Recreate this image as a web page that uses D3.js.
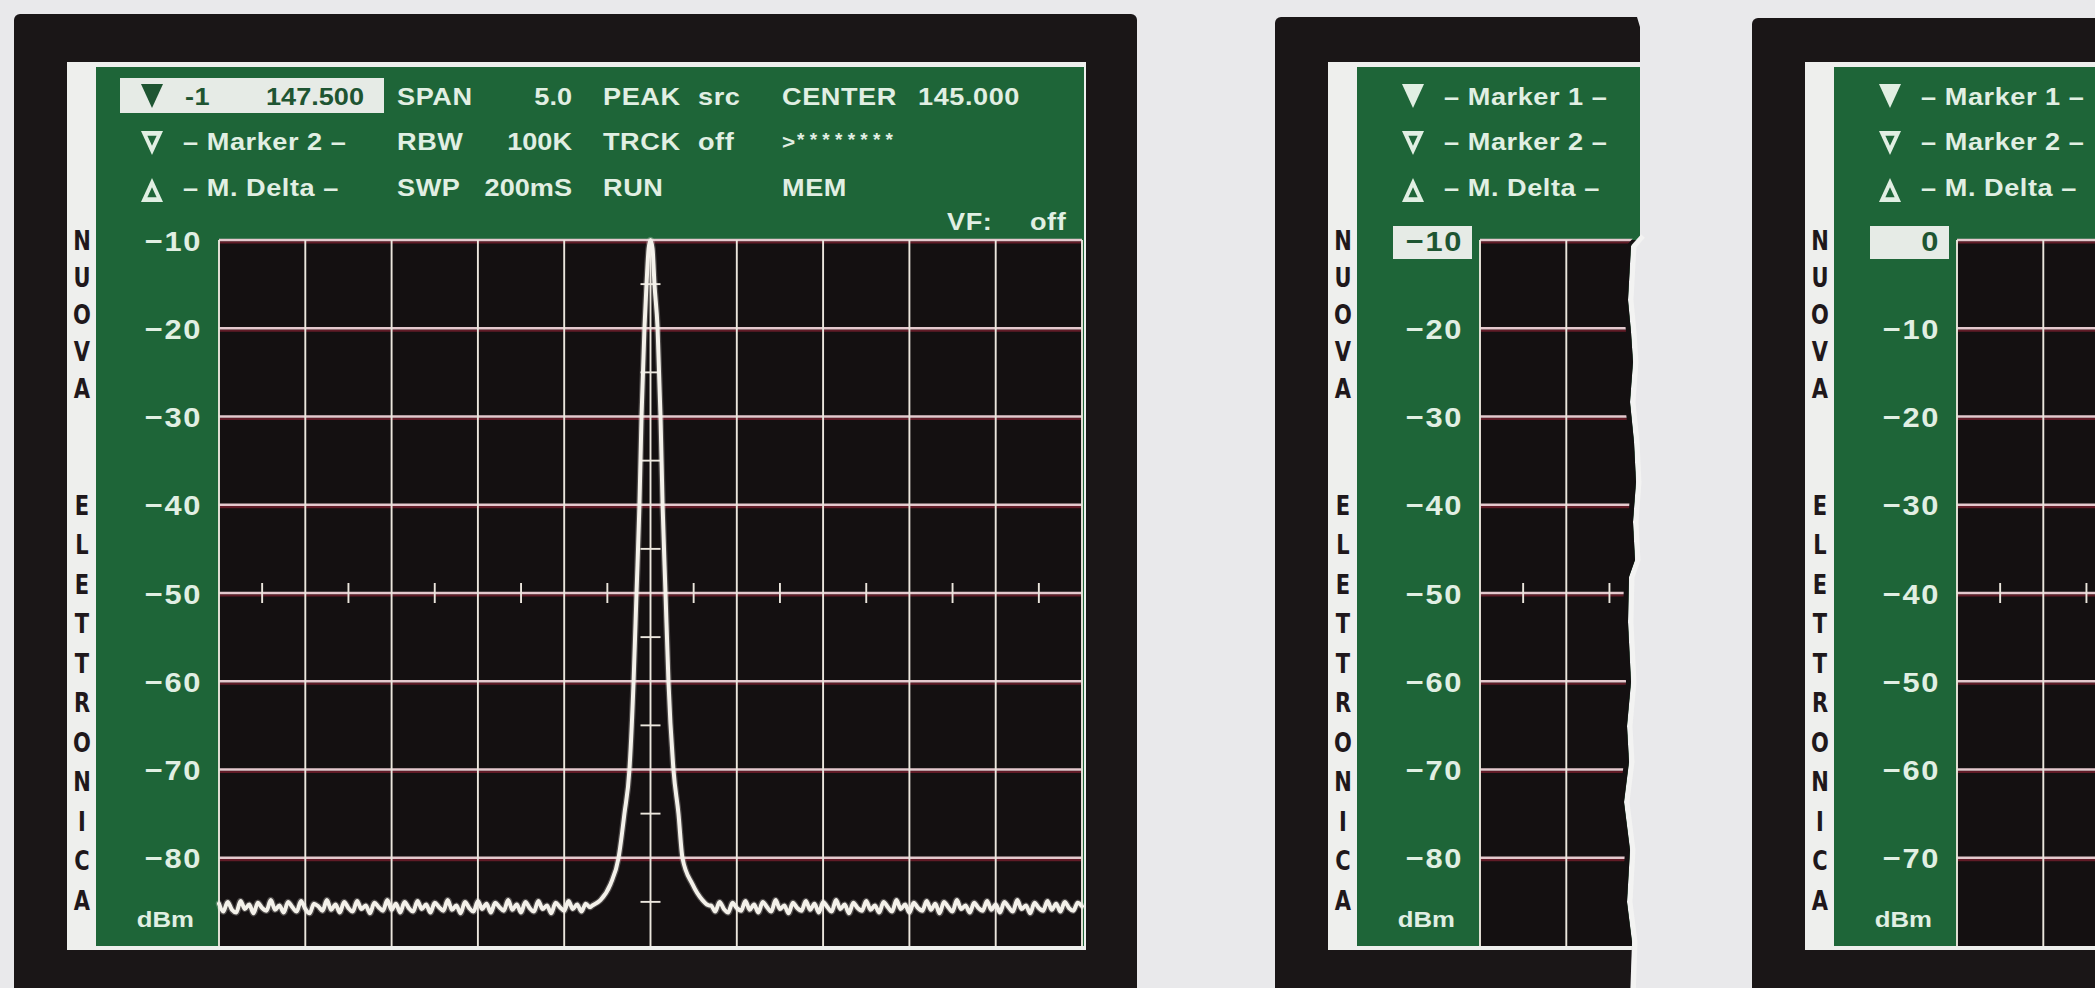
<!DOCTYPE html>
<html>
<head>
<meta charset="utf-8">
<script src="https://cdn.jsdelivr.net/npm/d3@7"></script>
<style>
  html, body { margin: 0; padding: 0; background: #e9e9eb; overflow: hidden; }
  svg { display: block; }
</style>
</head>
<body>
<svg id="chart"></svg>
<script>
// ---------------- data ----------------
const freqStartMHz = 142.5;
const freqStopMHz = 147.5;
const freqGridMHz = [142.5, 143.0, 143.5, 144.0, 144.5, 145.0, 145.5, 146.0, 146.5, 147.0, 147.5];
const freqMinorMHz = [142.75, 143.25, 143.75, 144.25, 144.75, 145.25, 145.75, 146.25, 146.75, 147.25];
const centerFreqMHz = 145.0;

// reference level scales (dBm)
const levelGridA = [-10, -20, -30, -40, -50, -60, -70, -80];
const levelMinorA = [-15, -25, -35, -45, -55, -65, -75, -85];
const levelGridB = [0, -10, -20, -30, -40, -50, -60, -70];
const levelMinorB = [-5, -15, -25, -35, -45, -55, -65, -75];

// sweep trace: noise floor left of the carrier, carrier, noise floor right of it
const noiseStepMHz = 0.025;
const noiseLeftStartMHz = 142.5;
const noiseLeftDbm = [
  -85.2, -86.1, -85.0, -85.9, -86.2, -84.9, -85.8, -85.3, -86.3, -85.1,
  -85.7, -86.0, -84.8, -85.9, -85.4, -86.2, -85.0, -85.6, -86.1, -84.9,
  -85.8, -86.3, -85.2, -85.5, -86.0, -84.8, -85.9, -85.3, -86.2, -85.0,
  -85.7, -86.1, -84.9, -85.8, -85.4, -86.3, -85.1, -85.6, -86.0, -84.8,
  -85.9, -85.2, -86.2, -85.0, -85.7, -86.1, -84.9, -85.8, -85.3, -86.2,
  -85.1, -85.6, -86.0, -84.8, -85.9, -85.4, -86.3, -85.0, -85.7, -86.1,
  -84.9, -85.8, -85.2, -86.2, -85.1, -85.6, -86.0, -84.8, -85.9, -85.3,
  -86.2, -85.0, -85.7, -86.1, -84.9, -85.8, -85.4, -86.3, -85.1, -85.6,
  -86.0, -84.9, -85.8, -85.3, -86.1, -85.2, -85.6
];
const peakFreqMHz = [
  144.664, 144.710, 144.768, 144.815, 144.849, 144.878, 144.902, 144.919, 144.936,
  144.948, 144.965, 144.977, 144.989, 145.000, 145.012, 145.023, 145.041, 145.058,
  145.070, 145.087, 145.104, 145.133, 145.162, 145.185, 145.243, 145.301, 145.340
];
const peakDbm = [
  -85.4, -84.8, -83.0, -80.0, -75.0, -70.0, -60.0, -50.0, -40.0,
  -30.0, -20.0, -15.0, -11.0, -10.0, -11.0, -15.0, -20.0, -30.0,
  -40.0, -50.0, -60.0, -70.0, -75.0, -80.0, -83.0, -84.8, -85.4
];
const noiseRightStartMHz = 145.35;
const noiseRightDbm = [
  -85.4, -86.1, -85.0, -85.8, -86.2, -85.1, -85.7, -86.0, -84.9, -85.9,
  -85.3, -86.2, -85.0, -85.6, -86.1, -84.8, -85.8, -85.4, -86.3, -85.1,
  -85.7, -86.0, -84.9, -85.9, -85.2, -86.2, -85.0, -85.6, -86.1, -84.8,
  -85.8, -85.3, -86.3, -85.1, -85.7, -86.0, -84.9, -85.9, -85.4, -86.2,
  -85.0, -85.6, -86.1, -84.8, -85.8, -85.3, -86.2, -85.1, -85.7, -86.0,
  -84.9, -85.9, -85.2, -86.3, -85.0, -85.6, -86.1, -84.8, -85.8, -85.4,
  -86.2, -85.1, -85.7, -86.0, -84.9, -85.9, -85.3, -86.2, -85.0, -85.6,
  -86.1, -84.8, -85.8, -85.4, -86.3, -85.1, -85.7, -86.0, -84.9, -85.9,
  -85.2, -86.1, -85.0, -85.7, -86.0, -85.1, -85.5
];

// on-screen read-outs
const markerLabels = ["– Marker 1 –", "– Marker 2 –", "– M.  Delta –"];
const activeMarker = ["-1", "147.500"];
const settingNames = ["SPAN", "RBW", "SWP"];
const settingValues = ["5.0", "100K", "200mS"];
const modeNames = ["PEAK", "TRCK", "RUN"];
const modeValues = ["src", "off", ""];
const statusRow1 = ["CENTER", "145.000"];
const statusRow2 = [">", "********"];
const statusRow3 = ["MEM"];
const footerTexts = ["VF:", "off"];
const unitLabel = "dBm";
const brandTop = "NUOVA";
const brandBottom = "ELETTRONICA";

// ---------------- look ----------------
const W = 2095, H = 988;
const C = {
  frame: "#1a1617",
  bezel: "#eeefed",
  green: "#1e6538",
  plot: "#141011",
  text: "#e1efe3",
  boxFill: "#e6ebe6",
  boxText: "#1e5532",
  hGrid: "#e4c9ce",
  hShadow: "#6a1d2a",
  vGrid: "#ebe6dd",
  trace: "#f4f1ea",
  letters: "#1f181b"
};
const FONT = "'Liberation Sans', Arial, Helvetica, sans-serif";

const svg = d3.select("#chart").attr("width", W).attr("height", H);
const defs = svg.append("defs");

// torn right edge of the middle screen
const tornEdge = [
  [1637, 17], [1640, 27], [1640, 236], [1631, 246], [1628, 300], [1631, 332],
  [1633, 362], [1630, 402], [1634, 442], [1636, 482], [1633, 522], [1635, 560],
  [1629, 577], [1628, 622], [1631, 682], [1627, 726], [1629, 762], [1624, 802],
  [1630, 850], [1627, 902], [1632, 942], [1630, 1000]
];
function edgePolygon(shift) {
  const pts = [[1200, 0], [1637 + shift, 0]]
    .concat(tornEdge.map(p => [p[0] + shift, p[1]]))
    .concat([[1200, 1000]]);
  return d3.line()(pts) + "Z";
}
defs.append("clipPath").attr("id", "tornClip").append("path").attr("d", edgePolygon(0));
defs.append("clipPath").attr("id", "tornInner").append("path").attr("d", edgePolygon(-5));
defs.append("clipPath").attr("id", "pageClip").append("rect")
  .attr("x", 0).attr("y", 0).attr("width", W).attr("height", H);

function txt(g, x, yb, s, o = {}) {
  return g.append("text")
    .attr("transform", `translate(${x},${yb}) scale(${o.sx || 1.13},1)`)
    .attr("text-anchor", o.anchor || "start")
    .attr("font-family", FONT)
    .attr("font-weight", "bold")
    .attr("font-size", o.size || 24)
    .attr("letter-spacing", o.ls == null ? 0.5 : o.ls)
    .attr("fill", o.fill || C.text)
    .text(s);
}

function markerIcon(g, cx, yTop, kind, color, hole) {
  const w = 22, h = 24;
  const pts = kind === "up"
    ? [[cx, yTop], [cx + w / 2, yTop + h], [cx - w / 2, yTop + h]]
    : [[cx - w / 2, yTop], [cx + w / 2, yTop], [cx, yTop + h]];
  g.append("path").attr("d", d3.line()(pts) + "Z").attr("fill", color);
  if (hole) {
    const gx = d3.mean(pts, p => p[0]), gy = d3.mean(pts, p => p[1]);
    const inner = pts.map(p => [gx + (p[0] - gx) * 0.42, gy + (p[1] - gy) * 0.42]);
    g.append("path").attr("d", d3.line()(inner) + "Z").attr("fill", hole);
  }
}

// one analyser screen; ox is the left edge of its bezel frame
function drawScreen(cfg) {
  const { ox, top, grid, minor, refLevel, yDomain, fullHeader, boxedTop, trace } = cfg;
  const root = svg.append("g").attr("clip-path", `url(#${cfg.clip || "pageClip"})`);

  root.append("rect").attr("x", ox - 1).attr("y", top)
    .attr("width", 1123).attr("height", H - top + 20).attr("rx", 6).attr("fill", C.frame);
  root.append("rect").attr("x", ox + 52).attr("y", 62)
    .attr("width", 1019).attr("height", 888).attr("fill", C.bezel);
  root.append("rect").attr("x", ox + 81).attr("y", 67)
    .attr("width", 988).attr("height", 879).attr("fill", C.green);

  const x = d3.scaleLinear().domain([freqStartMHz, freqStopMHz]).range([ox + 204, ox + 1067]);
  const y = d3.scaleLinear().domain(yDomain).range([946, 240]);

  root.append("rect").attr("x", x(freqStartMHz)).attr("y", y(yDomain[1]))
    .attr("width", x(freqStopMHz) - x(freqStartMHz)).attr("height", y(yDomain[0]) - y(yDomain[1]))
    .attr("fill", C.plot);

  // brand lettering on the white bezel strip
  const brand = root.append("g").attr("font-family", "'DejaVu Sans', Verdana, sans-serif")
    .attr("font-weight", "bold").attr("font-size", 25).attr("fill", C.letters)
    .attr("text-anchor", "middle");
  brandTop.split("").forEach((ch, i) => {
    brand.append("text").attr("transform", `translate(${ox + 67},${240 + i * 37 + 9.5}) scale(0.84,1.05)`).text(ch);
  });
  brandBottom.split("").forEach((ch, i) => {
    brand.append("text").attr("transform", `translate(${ox + 67},${505 + i * 39.5 + 9.5}) scale(0.84,1.05)`).text(ch);
  });

  // grid
  const gridG = root.append("g").attr("clip-path", cfg.gridClip ? `url(#${cfg.gridClip})` : null);
  const xs = [x(freqStartMHz), x(freqStopMHz)];
  gridG.selectAll("line.hs").data(grid).join("line").attr("class", "hs")
    .attr("x1", xs[0]).attr("x2", xs[1])
    .attr("y1", d => y(d) + 2.4).attr("y2", d => y(d) + 2.4)
    .attr("stroke", C.hShadow).attr("stroke-width", 2.4).attr("opacity", 0.9);
  gridG.selectAll("line.h").data(grid).join("line").attr("class", "h")
    .attr("x1", xs[0]).attr("x2", xs[1])
    .attr("y1", d => y(d)).attr("y2", d => y(d))
    .attr("stroke", C.hGrid).attr("stroke-width", 2.4);
  gridG.selectAll("line.v").data(freqGridMHz).join("line").attr("class", "v")
    .attr("x1", d => x(d)).attr("x2", d => x(d))
    .attr("y1", y(yDomain[1])).attr("y2", y(yDomain[0]))
    .attr("stroke", C.vGrid).attr("stroke-width", 1.9);
  // graticule ticks on the reference line and the centre line
  gridG.selectAll("line.tx").data(freqMinorMHz).join("line").attr("class", "tx")
    .attr("x1", d => x(d)).attr("x2", d => x(d))
    .attr("y1", y(refLevel) - 10).attr("y2", y(refLevel) + 10)
    .attr("stroke", C.vGrid).attr("stroke-width", 1.9);
  gridG.selectAll("line.ty").data(minor).join("line").attr("class", "ty")
    .attr("x1", x(centerFreqMHz) - 10).attr("x2", x(centerFreqMHz) + 10)
    .attr("y1", d => y(d)).attr("y2", d => y(d))
    .attr("stroke", C.vGrid).attr("stroke-width", 1.9);

  // bottom bezel edge over the plot
  root.append("rect").attr("x", ox + 52).attr("y", 946).attr("width", 1019).attr("height", 4).attr("fill", C.bezel);

  // level axis labels
  if (boxedTop) {
    root.append("rect").attr("x", ox + 117).attr("y", y(grid[0]) - 14)
      .attr("width", 79).attr("height", 33).attr("fill", C.boxFill);
  }
  const axis = d3.axisLeft(y).tickValues(grid).tickSize(0).tickPadding(0);
  const axG = root.append("g").attr("transform", `translate(${ox + 187},0)`).call(axis);
  axG.select(".domain").remove();
  axG.selectAll("text")
    .attr("font-family", FONT).attr("font-weight", "bold").attr("font-size", 28)
    .attr("letter-spacing", 1.5).attr("dy", "0.36em")
    .attr("transform", "scale(1.1,1)")
    .attr("fill", (d, i) => (boxedTop && i === 0) ? C.boxText : C.text);
  txt(root, ox + 179, 927, unitLabel, { anchor: "end", size: 23, sx: 1.12, ls: 0 });

  // header read-outs
  const hdr = root.append("g");
  const rowBase = [105, 150, 196];
  const rowIconTop = [84, 131, 178];
  if (fullHeader) {
    hdr.append("rect").attr("x", ox + 105).attr("y", 78).attr("width", 264).attr("height", 35).attr("fill", C.boxFill);
    markerIcon(hdr, ox + 137, rowIconTop[0], "down", C.boxText, null);
    txt(hdr, ox + 170, rowBase[0], activeMarker[0], { fill: C.boxText });
    txt(hdr, ox + 349, rowBase[0], activeMarker[1], { fill: C.boxText, anchor: "end", ls: 0 });
  } else {
    markerIcon(hdr, ox + 137, rowIconTop[0], "down", C.text, null);
    txt(hdr, ox + 168, rowBase[0], markerLabels[0]);
  }
  markerIcon(hdr, ox + 137, rowIconTop[1], "down", C.text, C.green);
  txt(hdr, ox + 168, rowBase[1], markerLabels[1]);
  markerIcon(hdr, ox + 137, rowIconTop[2], "up", C.text, C.green);
  txt(hdr, ox + 168, rowBase[2], markerLabels[2]);

  if (fullHeader) {
    settingNames.forEach((s, i) => txt(hdr, ox + 382, rowBase[i], s));
    settingValues.forEach((s, i) => txt(hdr, ox + 557, rowBase[i], s, { anchor: "end", ls: 0 }));
    modeNames.forEach((s, i) => txt(hdr, ox + 588, rowBase[i], s));
    modeValues.forEach((s, i) => { if (s) txt(hdr, ox + 683, rowBase[i], s); });
    txt(hdr, ox + 767, rowBase[0], statusRow1[0]);
    txt(hdr, ox + 903, rowBase[0], statusRow1[1]);
    txt(hdr, ox + 767, rowBase[1] - 1, statusRow2[0], { size: 20 });
    hdr.append("text").attr("x", ox + 782).attr("y", rowBase[1] - 4)
      .attr("font-family", FONT).attr("font-weight", "bold").attr("font-size", 19)
      .attr("fill", C.text).attr("textLength", 96).attr("lengthAdjust", "spacing")
      .text(statusRow2[1]);
    txt(hdr, ox + 767, rowBase[2], statusRow3[0]);
    txt(hdr, ox + 932, 230, footerTexts[0]);
    txt(hdr, ox + 1015, 230, footerTexts[1]);
  }

  // sweep trace
  if (trace) {
    const pts = [
      ...noiseLeftDbm.map((v, i) => ({ f: noiseLeftStartMHz + i * noiseStepMHz, v })),
      ...peakFreqMHz.map((f, i) => ({ f, v: peakDbm[i] })),
      ...noiseRightDbm.map((v, i) => ({ f: noiseRightStartMHz + i * noiseStepMHz, v }))
    ];
    const line = d3.line().x(d => x(d.f)).y(d => y(d.v)).curve(d3.curveMonotoneX);
    root.append("path").attr("d", line(pts)).attr("fill", "none")
      .attr("stroke", C.trace).attr("stroke-width", 6.5).attr("opacity", 0.25)
      .attr("stroke-linejoin", "round").attr("stroke-linecap", "round");
    root.append("path").attr("d", line(pts)).attr("fill", "none")
      .attr("stroke", C.trace).attr("stroke-width", 4)
      .attr("stroke-linejoin", "round").attr("stroke-linecap", "round");
  }
  return root;
}

// left: full screen with the carrier
drawScreen({
  ox: 15, top: 14, grid: levelGridA, minor: levelMinorA, refLevel: -50,
  yDomain: [-90, -10], fullHeader: true, boxedTop: false, trace: true
});

// middle: torn screen, same reference level
drawScreen({
  ox: 1276, top: 17, grid: levelGridA, minor: levelMinorA, refLevel: -50,
  yDomain: [-90, -10], fullHeader: false, boxedTop: true, trace: false,
  clip: "tornClip", gridClip: "tornInner"
});
// paper fringe along the tear
svg.append("path")
  .attr("d", d3.line()(tornEdge.slice(2).map(p => [p[0] + 3, p[1]])))
  .attr("fill", "none").attr("stroke", "#f5f5f4").attr("stroke-width", 5).attr("opacity", 0.8);

// right: screen cut by the page edge, reference level 0 dBm
drawScreen({
  ox: 1753, top: 18, grid: levelGridB, minor: levelMinorB, refLevel: -40,
  yDomain: [-80, 0], fullHeader: false, boxedTop: true, trace: false
});
</script>
</body>
</html>
